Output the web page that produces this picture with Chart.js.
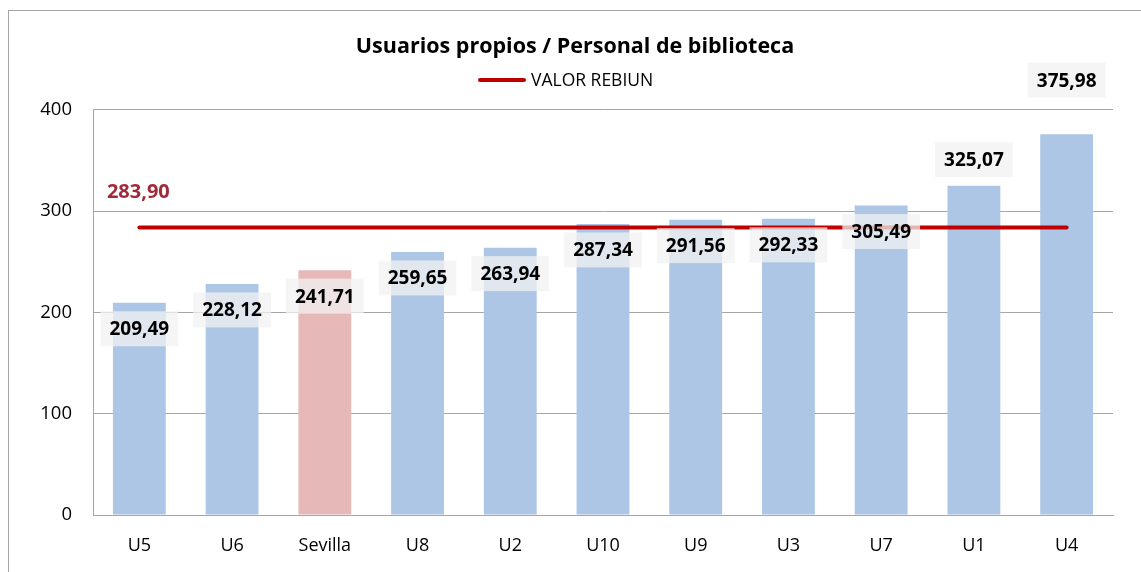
<!DOCTYPE html>
<html>
<head>
<meta charset="utf-8">
<script src="https://cdn.jsdelivr.net/npm/chart.js@4"></script>
<style>
  body { margin: 0; background: #fff; overflow: hidden; }
  #wrap { position: relative; width: 1141px; height: 572px; }
  #frame { position: absolute; left: 8px; top: 10px; width: 1300px; height: 700px; border: 1px solid #a6a6a6; }
  canvas { position: absolute; left: 0; top: 0; }
</style>
</head>
<body>
<div id="wrap">
  <div id="frame"></div>
  <canvas id="chart1" width="1141" height="572"></canvas>
</div>
<script>
// values
const categories = ['U5', 'U6', 'Sevilla', 'U8', 'U2', 'U10', 'U9', 'U3', 'U7', 'U1', 'U4'];
const ratios = [209.49, 228.12, 241.71, 259.65, 263.94, 287.34, 291.56, 292.33, 305.49, 325.07, 375.98];
const rebiunValue = 283.90;
const yTicks = [0, 100, 200, 300, 400];

const blue = '#adc6e5';
const pink = '#e6b8b7';
const red = '#c00000';
const fontFamily = '"Open Sans", Lato, sans-serif';

// where each value label sits relative to its bar top (px, + = below)
const labelShift = [26, 26, 26, 26, 26, 26, 26, 26, 26, -26, -54];

function fmt(v) {
    return v.toFixed(2).replace('.', ',');
}

const valueLabels = {
    id: 'valueLabels',
    afterDatasetsDraw(chart) {
        const ctx = chart.ctx;
        const bars = chart.getDatasetMeta(0).data;
        ctx.save();
        ctx.font = 'bold 19px ' + fontFamily;
        ctx.textAlign = 'center';
        ctx.textBaseline = 'middle';
        bars.forEach(function(bar, i) {
            const txt = fmt(ratios[i]);
            const w = ctx.measureText(txt).width + 18;
            const h = 35;
            const cy = bar.y + labelShift[i];
            ctx.fillStyle = 'rgba(242,242,242,0.75)';
            ctx.fillRect(bar.x - w / 2, cy - h / 2, w, h);
            ctx.fillStyle = '#000';
            ctx.fillText(txt, bar.x, cy + 1);
        });
        // label of the reference line
        const p = chart.getDatasetMeta(1).data[0];
        ctx.fillStyle = '#a12a3a';
        ctx.font = 'bold 20px ' + fontFamily;
        ctx.fillText(fmt(rebiunValue), p.x - 1, p.y - 35);

        // legend: only the reference line
        const lx = 478, ly = 80;
        ctx.strokeStyle = red;
        ctx.lineWidth = 4;
        ctx.lineCap = 'round';
        ctx.beginPath();
        ctx.moveTo(lx + 2, ly);
        ctx.lineTo(lx + 46, ly);
        ctx.stroke();
        ctx.font = '17.5px ' + fontFamily;
        ctx.textAlign = 'left';
        ctx.fillStyle = '#000';
        ctx.fillText(chart.data.datasets[1].label, lx + 53, ly + 1);
        ctx.restore();
    }
};

document.addEventListener("DOMContentLoaded", function() {
    const ctx1 = document.getElementById('chart1').getContext('2d');
    new Chart(ctx1, {
        type: 'bar',
        data: {
            labels: categories,
            datasets: [{
                type: 'bar',
                label: 'Usuarios propios / Personal',
                data: ratios,
                backgroundColor: categories.map(c => c === 'Sevilla' ? pink : blue),
                categoryPercentage: 1,
                barPercentage: 0.57,
                order: 2
            }, {
                type: 'line',
                label: 'VALOR REBIUN',
                data: categories.map(() => rebiunValue),
                borderColor: red,
                backgroundColor: red,
                borderWidth: 4,
                borderCapStyle: 'round',
                pointRadius: 0,
                order: 1
            }]
        },
        options: {
            responsive: false,
            animation: false,
            layout: { padding: { left: 37, right: 28, top: 0, bottom: 0 } },
            plugins: {
                title: {
                    display: true,
                    text: 'Usuarios propios / Personal de biblioteca',
                    color: '#000',
                    font: { family: fontFamily, size: 21.5, weight: 'bold' },
                    padding: { top: 34, bottom: 50 }
                },
                legend: { display: false },
                tooltip: { enabled: false }
            },
            scales: {
                x: {
                    grid: { display: false },
                    border: { color: '#a6a6a6', width: 1 },
                    ticks: { color: '#000', font: { family: fontFamily, size: 18 }, padding: 12 },
                    afterFit: function(scale) { scale.height = 57; }
                },
                y: {
                    min: 0,
                    max: 400,
                    afterBuildTicks: function(scale) { scale.ticks = yTicks.map(v => ({ value: v })); },
                    grid: { color: '#a6a6a6', drawTicks: false },
                    border: { color: '#a6a6a6', width: 1 },
                    ticks: { color: '#000', font: { family: fontFamily, size: 18.5 }, padding: 21 },
                    afterFit: function(scale) { scale.width = 56; }
                }
            }
        },
        plugins: [valueLabels]
    });
});
</script>
</body>
</html>
